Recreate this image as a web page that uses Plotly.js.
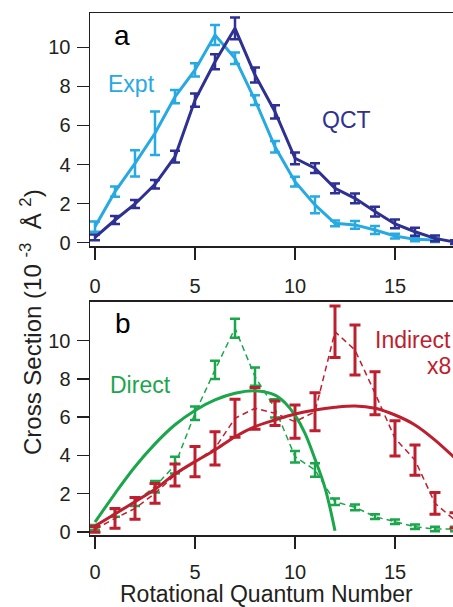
<!DOCTYPE html>
<html>
<head>
<meta charset="utf-8">
<script src="https://cdn.plot.ly/plotly-3.0.1.min.js"></script>
<style>html,body{margin:0;padding:0;overflow:hidden;background:#fff}</style>
</head>
<body>
<div id="chart" style="width:453px;height:607px"></div>
<script>
// Panel a
const jA = [0,1,2,3,4,5,6,7,8,9,10,11,12,13,14,15,16,17,18];
const exptVals = [0.82,2.61,4.06,5.6,7.47,8.84,10.63,9.44,7.3,4.91,3.12,1.93,0.99,0.91,0.65,0.34,0.17,0.14];
const exptErr  = [0.26,0.26,0.67,1.11,0.34,0.34,0.51,0.3,0.25,0.3,0.25,0.43,0.15,0.2,0.2,0.12,0.1,0.1];
const qctVals  = [0.27,1.16,1.98,2.99,4.4,7.3,9.26,10.97,8.58,6.7,4.32,3.81,2.78,2.27,1.59,0.96,0.56,0.22,0.03];
const qctErr   = [0.15,0.2,0.2,0.22,0.3,0.34,0.38,0.56,0.38,0.34,0.3,0.25,0.25,0.25,0.25,0.22,0.2,0.15,0.1];

// Panel b
const jB = [0,1,2,3,4,5,6,7,8,9,10,11,12,13,14,15,16,17,18];
const directVals = [0.23,0.99,1.57,2.36,3.49,6.2,8.47,10.65,8.12,6.46,3.93,3.23,1.57,1.28,0.79,0.52,0.26,0.14,0.14];
const directErr  = [0.12,0.2,0.22,0.3,0.44,0.35,0.48,0.5,0.48,0.48,0.3,0.35,0.17,0.15,0.12,0.12,0.12,0.12,0.12];
const indirectVals = [0.13,0.7,1.22,2.01,2.97,3.67,4.37,5.94,6.46,6.2,5.76,6.28,10.47,9.51,7.25,4.89,3.75,1.49,0.6];
const indirectErr  = [0.15,0.52,0.57,0.52,0.57,0.79,0.87,1.0,1.09,0.64,0.87,1.0,1.35,1.31,1.13,0.92,0.79,0.57,0.4];

const directFitJ = [0,1,2,3,4,5,6,7,8,9,9.5,10,10.5,11,11.5,12];
const directFitVals = [0.5,2.0,3.4,4.6,5.6,6.35,6.9,7.25,7.38,7.15,6.75,6.1,5.15,3.8,2.3,0.05];
const indirectFitJ = [0,1,2,3,4,5,6,7,8,9,10,11,12,13,14,15,16,17,18];
const indirectFitVals = [0.3,0.93,1.57,2.22,3.02,3.67,4.28,4.97,5.5,5.85,6.16,6.37,6.51,6.58,6.46,6.11,5.59,4.8,3.85];

const xTicks = [0,5,10,15];
const yTicks = [0,2,4,6,8,10];

const cLight = '#27a9e1', cDark = '#2e3192', cGreen = '#1ba64c', cRed = '#be1e2d', cAxis = '#231f20';
const W = 453, H = 607;
const px = v => v / W, py = v => 1 - v / H;

const traces = [
  {x: jA.slice(0, exptVals.length), y: exptVals, xaxis:'x', yaxis:'y', mode:'lines', line:{color:cLight, width:3},
   error_y:{type:'data', array:exptErr, color:cLight, thickness:2.5, width:5}},
  {x: jA, y: qctVals, xaxis:'x', yaxis:'y', mode:'lines', line:{color:cDark, width:3},
   error_y:{type:'data', array:qctErr, color:cDark, thickness:2.5, width:5}},
  {x: jB, y: directVals, xaxis:'x2', yaxis:'y2', mode:'lines', line:{color:cGreen, width:1.5, dash:'6px,4px'},
   error_y:{type:'data', array:directErr, color:cGreen, thickness:2.5, width:5}},
  {x: jB, y: indirectVals, xaxis:'x2', yaxis:'y2', mode:'lines', line:{color:cRed, width:1.5, dash:'6px,4px'},
   error_y:{type:'data', array:indirectErr, color:cRed, thickness:3, width:5.5}},
  {x: directFitJ, y: directFitVals, xaxis:'x2', yaxis:'y2', mode:'lines', line:{color:cGreen, width:3, shape:'spline'}},
  {x: indirectFitJ, y: indirectFitVals, xaxis:'x2', yaxis:'y2', mode:'lines', line:{color:cRed, width:3, shape:'spline'}}
];

const font = 'Liberation Sans, Arial, sans-serif';
const xCommon = {range:[-0.25,17.9], domain:[px(90),1], tickvals:xTicks, ticks:'outside', ticklen:12, tickwidth:1.5,
  tickcolor:cAxis, showline:true, linecolor:cAxis, linewidth:1.5, mirror:true, showgrid:false, zeroline:false,
  tickfont:{family:font, size:20, color:cAxis}};
const yCommon = {tickvals:yTicks, ticks:'outside', ticklen:12, tickwidth:1.5, tickcolor:cAxis, showline:true,
  linecolor:cAxis, linewidth:1.5, showgrid:false, zeroline:false, tickfont:{family:font, size:20, color:cAxis},
  ticklabelstandoff:2};

function note(text, x, y, size, color, extra) {
  return Object.assign({text:text, x:px(x), y:py(y), xref:'paper', yref:'paper', xanchor:'center', yanchor:'middle',
    showarrow:false, font:{family:font, size:size, color:color}}, extra || {});
}

const layout = {
  width: W, height: H, margin:{l:0,r:0,t:0,b:0}, showlegend:false,
  paper_bgcolor:'#fff', plot_bgcolor:'#fff',
  xaxis: Object.assign({}, xCommon, {anchor:'y', ticklabelstandoff:9}),
  yaxis: Object.assign({}, yCommon, {anchor:'x', domain:[py(246), py(13.3)], range:[-0.17,11.74]}),
  xaxis2: Object.assign({}, xCommon, {anchor:'y2', ticklabelstandoff:6}),
  yaxis2: Object.assign({}, yCommon, {anchor:'x2', domain:[py(535), py(301.7)], range:[-0.17,12.04]}),
  annotations: [
    note('a', 122, 36, 28, '#000'),
    note('Expt', 131.5, 84, 23, cLight),
    note('QCT', 346, 120, 23, cDark),
    note('b', 123, 323, 28, '#000'),
    note('Direct', 140, 385, 23, cGreen),
    note('Indirect', 453, 340, 23, cRed, {xanchor:'right'}),
    note('x8', 453, 366, 23, cRed, {xanchor:'right'}),
    note('Rotational Quantum Number', 266.5, 594, 23, cAxis),
    note('Cross Section (10&nbsp;<sup>-3</sup>&nbsp;&nbsp;Å&nbsp;<sup>2</sup>)', 31, 322, 24, cAxis, {textangle:-90})
  ]
};

Plotly.newPlot('chart', traces, layout, {staticPlot:true, displayModeBar:false});
</script>
</body>
</html>
